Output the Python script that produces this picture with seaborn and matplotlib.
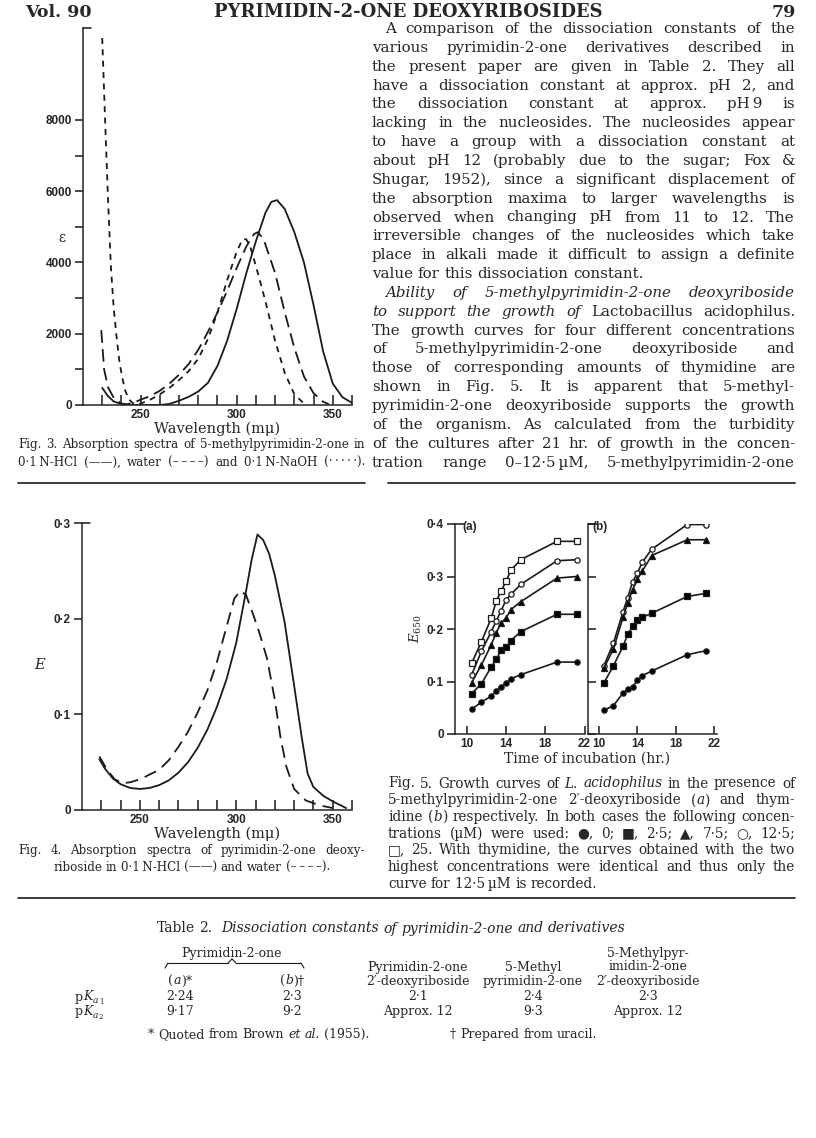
import matplotlib
matplotlib.use("Agg")
import matplotlib.pyplot as plt
import seaborn as sns
import pandas as pd
from matplotlib.lines import Line2D

# ---- Fig. 3: 5-methylpyrimidin-2-one, epsilon vs wavelength (m-mu)
f3_hcl_wl = [230, 233, 236, 240, 245, 250, 260, 265, 270, 275, 280, 285, 290, 295, 300, 305,
             310, 315, 318, 321, 325, 330, 335, 340, 345, 350, 355, 360]
f3_hcl_eps = [480, 250, 100, 25, 0, 0, 0, 30, 120, 230, 380, 620, 1100, 1800, 2700, 3700,
              4600, 5400, 5700, 5750, 5500, 4850, 4000, 2800, 1500, 600, 220, 60]
f3_water_wl = [229.5, 231, 233, 236, 240, 243, 247, 250, 255, 260, 265, 270, 275, 280, 285,
               290, 295, 300, 305, 309, 311, 314, 320, 325, 330, 335, 340, 345, 348]
f3_water_eps = [2100, 1000, 500, 200, 40, 20, 80, 150, 250, 400, 600, 850, 1150, 1550, 2050,
                2600, 3200, 3850, 4450, 4800, 4850, 4650, 3700, 2600, 1600, 800, 330, 90, 20]
f3_naoh_wl = [230, 231.5, 233, 234.5, 236, 237.5, 239, 240.5, 242, 244, 246, 248, 250, 255,
              260, 265, 270, 275, 280, 285, 290, 295, 300, 303, 305, 307, 310, 315, 320, 325,
              330, 335, 337]
f3_naoh_eps = [10300, 8000, 5800, 3900, 2700, 1900, 1200, 750, 400, 150, 50, 20, 40, 150,
               300, 480, 700, 950, 1300, 1850, 2600, 3500, 4300, 4650, 4650, 4450, 3900, 2900,
               1800, 900, 300, 40, 0]

# ---- Fig. 4: pyrimidin-2-one deoxyriboside, E vs wavelength
f4_hcl_wl = [229, 232, 236, 240, 245, 250, 255, 260, 265, 270, 275, 280, 285, 290, 295, 300,
             305, 308, 311, 314, 317, 320, 325, 330, 334, 337, 340, 345, 350, 357]
f4_hcl_e = [0.053, 0.043, 0.033, 0.027, 0.023, 0.022, 0.023, 0.026, 0.031, 0.039, 0.050,
            0.065, 0.084, 0.108, 0.137, 0.175, 0.228, 0.262, 0.288, 0.282, 0.268, 0.245,
            0.197, 0.130, 0.075, 0.038, 0.024, 0.015, 0.009, 0.002]
f4_water_wl = [229, 233, 237, 241, 245, 250, 255, 260, 265, 270, 275, 280, 285, 290, 295, 299,
               302, 305, 309, 312, 316, 320, 323, 326, 330, 336, 343, 350]
f4_water_e = [0.056, 0.042, 0.032, 0.028, 0.029, 0.032, 0.037, 0.042, 0.052, 0.066, 0.082,
              0.102, 0.125, 0.155, 0.192, 0.221, 0.229, 0.225, 0.203, 0.185, 0.158, 0.115,
              0.075, 0.045, 0.022, 0.010, 0.005, 0.002]

# ---- Fig. 5: growth curves, E650 vs time (hr.)
f5_time = [10.5, 11.5, 12.5, 13, 13.5, 14, 14.5, 15.5, 19.2, 21.2]
f5a = {
    "25": [0.135, 0.176, 0.221, 0.253, 0.272, 0.291, 0.312, 0.332, 0.367, 0.367],
    "12.5": [0.113, 0.158, 0.195, 0.215, 0.235, 0.255, 0.266, 0.285, 0.330, 0.332],
    "7.5": [0.098, 0.132, 0.170, 0.193, 0.211, 0.221, 0.237, 0.252, 0.297, 0.300],
    "2.5": [0.077, 0.096, 0.128, 0.142, 0.160, 0.165, 0.178, 0.195, 0.228, 0.228],
    "0": [0.047, 0.061, 0.072, 0.082, 0.090, 0.097, 0.105, 0.113, 0.137, 0.137],
}
f5b = {
    "12.5": [0.130, 0.173, 0.233, 0.260, 0.290, 0.306, 0.327, 0.352, 0.399, 0.399],
    "7.5": [0.125, 0.162, 0.222, 0.250, 0.275, 0.295, 0.310, 0.340, 0.370, 0.370],
    "2.5": [0.097, 0.130, 0.167, 0.190, 0.205, 0.218, 0.222, 0.230, 0.262, 0.268],
    "0": [0.045, 0.054, 0.078, 0.085, 0.090, 0.102, 0.111, 0.120, 0.151, 0.159],
}
f5_markers = {"25": ("s", "white"), "12.5": ("o", "white"), "7.5": ("^", "black"),
              "2.5": ("s", "black"), "0": ("o", "black")}

# ---- page text
header = ["Vol. 90", "PYRIMIDIN-2-ONE DEOXYRIBOSIDES", "79"]
body = [
    "A comparison of the dissociation constants of the",
    "various pyrimidin-2-one derivatives described in",
    "the present paper are given in Table 2. They all",
    "have a dissociation constant at approx. pH 2, and",
    "the dissociation constant at approx. pH\u20099 is",
    "lacking in the nucleosides. The nucleosides appear",
    "to have a group with a dissociation constant at",
    "about pH 12 (probably due to the sugar; Fox &",
    "Shugar, 1952), since a significant displacement of",
    "the absorption maxima to larger wavelengths is",
    "observed when changing pH from 11 to 12. The",
    "irreversible changes of the nucleosides which take",
    "place in alkali made it difficult to assign a definite",
    "value for this dissociation constant.",
    "~Ability of 5-methylpyrimidin-2-one deoxyriboside~",
    "~to support the growth of~ Lactobacillus acidophilus.",
    "The growth curves for four different concentrations",
    "of 5-methylpyrimidin-2-one deoxyriboside and",
    "those of corresponding amounts of thymidine are",
    "shown in Fig. 5. It is apparent that 5-methyl-",
    "pyrimidin-2-one deoxyriboside supports the growth",
    "of the organism. As calculated from the turbidity",
    "of the cultures after 21 hr. of growth in the concen-",
    "tration range 0\u201312\u00b75\u2009\u00b5M, 5-methylpyrimidin-2-one",
]
body_indent = {0, 14}
body_left = {13}
cap3 = ["Fig. 3. Absorption spectra of 5-methylpyrimidin-2-one in",
        "0\u00b71\u2009N-HCl (\u2014\u2014), water (\u2013\u2009\u2013\u2009\u2013\u2009\u2013) and "
        "0\u00b71\u2009N-NaOH (\u00b7\u2009\u00b7\u2009\u00b7\u2009\u00b7\u2009\u00b7)."]
cap4 = ["Fig. 4. Absorption spectra of pyrimidin-2-one deoxy-",
        "riboside in 0\u00b71\u2009N-HCl (\u2014\u2014) and water (\u2013\u2009\u2013\u2009\u2013\u2009\u2013)."]
cap5 = ["Fig. 5. Growth curves of ~L. acidophilus~ in the presence of",
        "5-methylpyrimidin-2-one 2\u2032-deoxyriboside (~a~) and thym-",
        "idine (~b~) respectively. In both cases the following concen-",
        "trations (\u00b5M) were used: \u25cf, 0; \u25a0, 2\u00b75; \u25b2, 7\u00b75; \u25cb, 12\u00b75;",
        "\u25a1, 25. With thymidine, the curves obtained with the two",
        "highest concentrations were identical and thus only the",
        "curve for 12\u00b75\u2009\u00b5M is recorded."]

# ---- Table 2
tab_title = "Table 2.  ~Dissociation constants of pyrimidin-2-one and derivatives~"
tab_heads = [["(~a~)*"], ["(~b~)\u2020"], ["Pyrimidin-2-one", "2\u2032-deoxyriboside"],
             ["5-Methyl", "pyrimidin-2-one"],
             ["5-Methylpyr-", "imidin-2-one", "2\u2032-deoxyriboside"]]
tab_rows = ["1", "2"]
tab_vals = [["2\u00b724", "2\u00b73", "2\u00b71", "2\u00b74", "2\u00b73"],
            ["9\u00b717", "9\u00b72", "Approx. 12", "9\u00b73", "Approx. 12"]]
tab_notes = ["* Quoted from Brown ~et al.~ (1955).", "\u2020 Prepared from uracil."]

W, H = 816, 1138
SERIF = ["DejaVu Serif", "DejaVu Sans"]
SANS = "Liberation Sans"

sns.set_theme(style="ticks")
plt.rcParams["font.family"] = SERIF
plt.rcParams["mathtext.fontset"] = "dejavuserif"
plt.rcParams["axes.linewidth"] = 1.1

fig = plt.figure(figsize=(W / 100, H / 100), dpi=100)
fig.patch.set_facecolor("white")
renderer = fig.canvas.get_renderer()
_cache = {}


def px(l, t, r, b):
    return [l / W, 1 - b / H, (r - l) / W, (b - t) / H]


def ftext(x, y, s, **kw):
    kw.setdefault("family", SERIF)
    return fig.text(x / W, 1 - y / H, s, **kw)


def rule(x0, x1, y, lw=1.2):
    fig.add_artist(Line2D([x0 / W, x1 / W], [1 - y / H, 1 - y / H], color="k", lw=lw))


def measure(s, size, it):
    key = (s, size, it)
    if key not in _cache:
        t = ftext(0, 0, s, fontsize=size, fontstyle="italic" if it else "normal")
        _cache[key] = t.get_window_extent(renderer).width
        t.remove()
    return _cache[key]


def parse(line):
    words, it = [], False
    for chunk in line.split(" "):
        runs = []
        for i, part in enumerate(chunk.split("~")):
            if i:
                it = not it
            if part:
                runs.append((part, it))
        words.append(runs)
    return words


def put_line(line, x0, x1, y, size, mode="j", indent=0):
    words = parse(line)
    widths = [sum(measure(p, size, i) for p, i in w) for w in words]
    space = measure("a a", size, False) - measure("aa", size, False)
    if mode == "j" and len(words) > 1:
        gap = (x1 - x0 - indent - sum(widths)) / (len(words) - 1)
    else:
        gap = space
    total = sum(widths) + gap * (len(words) - 1)
    x = (x0 + x1) / 2 - total / 2 if mode == "c" else x0 + indent
    for w, wd in zip(words, widths):
        xx = x
        for p, i in w:
            ftext(xx, y, p, fontsize=size, fontstyle="italic" if i else "normal", va="baseline")
            xx += measure(p, size, i)
        x += wd + gap


def fit_size(lines, width, start):
    size = start
    while size > 5:
        ok = True
        for ln in lines:
            words = parse(ln)
            nat = sum(sum(measure(p, size, i) for p, i in w) for w in words)
            nat += 0.8 * (measure("a a", size, False) - measure("aa", size, False)) * (len(words) - 1)
            if nat > width - 8:
                ok = False
                break
        if ok:
            return size
        size = round(size - 0.1, 2)
    return size


def block(lines, x0, x1, y0, dy, size, left=(), indent=(), center=()):
    for k, ln in enumerate(lines):
        mode = "c" if k in center else ("l" if k in left else "j")
        put_line(ln, x0, x1, y0 + k * dy, size, mode, 13 if k in indent else 0)


def spectrum_axes(ax, ymax, yticks, ylabels, yminor):
    sns.despine(ax=ax)
    ax.set_xlim(220, 360)
    ax.set_ylim(0, ymax)
    ax.set_xticks([250, 300, 350])
    ax.set_xticklabels(["250", "300", "350"], family=SANS, fontsize=8.5, fontweight="bold")
    ax.set_xticks(list(range(230, 361, 10)), minor=True)
    ax.set_yticks(yticks)
    ax.set_yticklabels(ylabels, family=SANS, fontsize=8.5, fontweight="bold")
    ax.set_yticks(yminor, minor=True)
    ax.tick_params(axis="x", which="both", direction="in", length=7, width=1.1, pad=3, color="k")
    ax.tick_params(axis="y", which="both", direction="out", length=6, width=1.1, pad=2, color="k")
    ax.set_xlabel("")
    ax.set_ylabel("")
    ax.plot([0, 0.03], [1, 1], transform=ax.transAxes, color="k", lw=1.1, clip_on=False)


# ---- header
ftext(25, 17, header[0], fontsize=12.5, fontweight="bold", va="baseline")
ftext(408, 17, header[1], fontsize=13, fontweight="bold", va="baseline", ha="center")
ftext(796, 17, header[2], fontsize=12.5, fontweight="bold", va="baseline", ha="right")

# ---- Fig. 3
ax3 = fig.add_axes(px(83, 28, 352, 405))
df3 = pd.concat([
    pd.DataFrame({"wl": f3_hcl_wl, "eps": f3_hcl_eps, "medium": "HCl"}),
    pd.DataFrame({"wl": f3_water_wl, "eps": f3_water_eps, "medium": "water"}),
    pd.DataFrame({"wl": f3_naoh_wl, "eps": f3_naoh_eps, "medium": "NaOH"}),
])
sns.lineplot(data=df3, x="wl", y="eps", style="medium", ax=ax3, color="k", lw=1.3,
             dashes={"HCl": "", "water": (7, 3.5), "NaOH": (3.3, 3)},
             estimator=None, sort=False, legend=False)
spectrum_axes(ax3, 10580, [0, 2000, 4000, 6000, 8000], ["0", "2000", "4000", "6000", "8000"],
              [1000, 3000, 5000, 7000])
ftext(62, 238, "\u03b5", fontsize=10, ha="center", va="center")
ftext(217, 433, "Wavelength (m\u03bc)", fontsize=10.5, ha="center", va="baseline")

# ---- Fig. 4
ax4 = fig.add_axes(px(82, 523, 352, 810))
df4 = pd.concat([
    pd.DataFrame({"wl": f4_hcl_wl, "E": f4_hcl_e, "medium": "HCl"}),
    pd.DataFrame({"wl": f4_water_wl, "E": f4_water_e, "medium": "water"}),
])
sns.lineplot(data=df4, x="wl", y="E", style="medium", ax=ax4, color="k", lw=1.3,
             dashes={"HCl": "", "water": (7, 4)}, estimator=None, sort=False, legend=False)
spectrum_axes(ax4, 0.3, [0, 0.1, 0.2, 0.3], ["0", "0\u00b71", "0\u00b72", "0\u00b73"], [])
ftext(40, 665, "E", fontsize=10.5, fontstyle="italic", ha="center", va="center")
ftext(217, 838, "Wavelength (m\u03bc)", fontsize=10.5, ha="center", va="baseline")


# ---- Fig. 5
def growth_panel(ax, series, xlim, inner):
    for conc, vals in series.items():
        mk, fc = f5_markers[conc]
        sns.lineplot(x=f5_time, y=vals, ax=ax, color="k", lw=1.2, marker=mk, markersize=3.8,
                     markerfacecolor=fc, markeredgecolor="k", markeredgewidth=0.9,
                     estimator=None, sort=False)
    sns.despine(ax=ax)
    ax.set_xlim(*xlim)
    ax.set_ylim(0, 0.4)
    ax.set_xticks([10, 14, 18, 22])
    ax.set_xticklabels(["10", "14", "18", "22"], family=SANS, fontsize=8.5, fontweight="bold")
    ax.set_yticks([0, 0.1, 0.2, 0.3, 0.4])
    ax.tick_params(axis="x", direction="in", length=6, width=1.1, pad=3, color="k")
    if inner:
        ax.set_yticklabels([])
        ax.tick_params(axis="y", direction="in", length=6, width=1.1, color="k")
    else:
        ax.set_yticklabels(["0", "0\u00b71", "0\u00b72", "0\u00b73", "0\u00b74"],
                           family=SANS, fontsize=8.5, fontweight="bold")
        ax.tick_params(axis="y", direction="out", length=6, width=1.1, pad=2, color="k")
    ax.plot([0, 0.07], [1, 1], transform=ax.transAxes, color="k", lw=1.1, clip_on=False)


ax5a = fig.add_axes(px(455, 524, 585, 734))
ax5b = fig.add_axes(px(588, 524, 717, 734))
growth_panel(ax5a, f5a, (8.8, 22.05), False)
growth_panel(ax5b, f5b, (8.85, 22.3), True)
ftext(470, 527, "(a)", family=SANS, fontsize=8.5, fontweight="bold", ha="center", va="center")
ftext(600, 527, "(b)", family=SANS, fontsize=8.5, fontweight="bold", ha="center", va="center")
ftext(416, 629, r"$E_{650}$", fontsize=9.5, rotation=90, ha="center", va="center")
ftext(587, 763, "Time of incubation (hr.)", fontsize=10, ha="center", va="baseline")

# ---- running text, captions, rules
bsize = min(10.8, fit_size([l for k, l in enumerate(body) if k not in body_left], 423, 11.5))
block(body, 372, 795, 33, 18.85, bsize, left=body_left, indent=body_indent)
csize = fit_size(cap3 + cap4[:1], 347, 9.8)
block(cap3, 18, 365, 447.6, 18.85, csize)
block(cap4, 18, 365, 854.3, 16.7, csize, center={1})
c5 = fit_size(cap5[:-1], 407, 9.8)
block(cap5, 388, 795, 787.5, 16.7, c5, left={6})
rule(18, 365, 483)
rule(388, 795, 483)
rule(18, 795, 898)

# ---- Table 2
tsize = 9.0
put_line(tab_title, 157, 795, 932.5, 10, "l")
cols = [180, 292, 418, 533, 648]
ftext(232, 956.5, "Pyrimidin-2-one", fontsize=tsize, ha="center", va="baseline")
bx0, bx1, bm, by = 165, 304, 232, 963
for seg in [((bx0, by + 5), (bx0 + 3, by)), ((bx0 + 3, by), (bm - 4, by)), ((bm - 4, by), (bm, by - 4)),
            ((bm, by - 4), (bm + 4, by)), ((bm + 4, by), (bx1 - 3, by)), ((bx1 - 3, by), (bx1, by + 5))]:
    (xa, ya), (xb, yb) = seg
    fig.add_artist(Line2D([xa / W, xb / W], [1 - ya / H, 1 - yb / H], color="k", lw=0.8))
for cx, head in zip(cols, tab_heads):
    for k, ln in enumerate(head):
        y = 984.5 - (len(head) - 1 - k) * 14
        put_line(ln, cx - 60, cx + 60, y, tsize, "c")
for r, (sub, vals) in enumerate(zip(tab_rows, tab_vals)):
    y = 1000.5 + r * 14.5
    # pK with subscript a and sub-subscript row number
    x = 75
    ftext(x, y, "p", fontsize=tsize, va="baseline")
    x += measure("p", tsize, False) + 0.5
    ftext(x, y, "K", fontsize=tsize, fontstyle="italic", va="baseline")
    x += measure("K", tsize, True)
    ftext(x, y + 2.5, "a", fontsize=6.5, fontstyle="italic", va="baseline")
    x += measure("a", 6.5, True) + 0.3
    ftext(x, y + 4, sub, fontsize=5, va="baseline")
    for cx, v in zip(cols, vals):
        ftext(cx, y, v, fontsize=tsize, ha="center", va="baseline")
put_line(tab_notes[0], 148, 400, 1038, tsize, "l")
put_line(tab_notes[1], 450, 795, 1038, tsize, "l")

fig.savefig("out.png", dpi=100, facecolor="white")
